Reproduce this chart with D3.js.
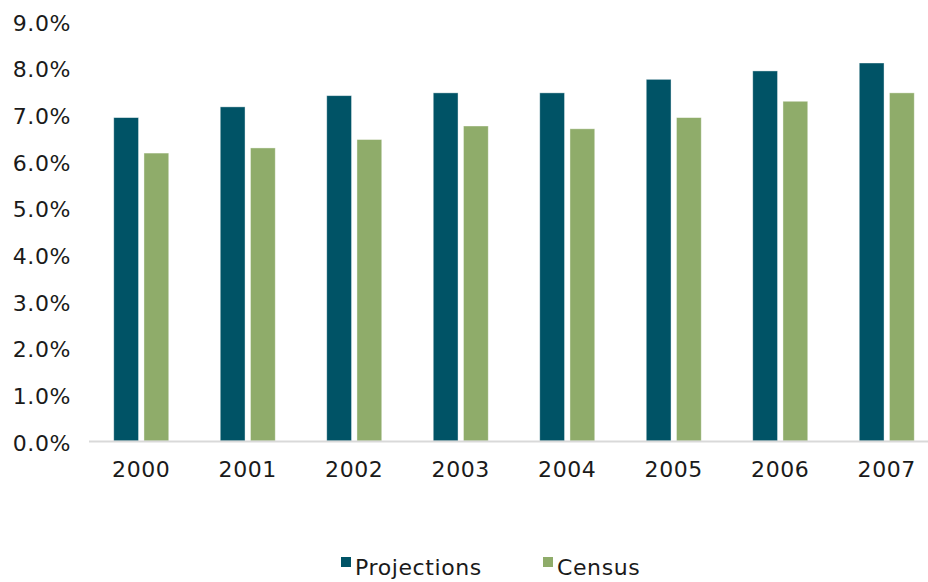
<!DOCTYPE html>
<html lang="en">
<head>
    <meta charset="UTF-8">
    <title>Projections vs Census</title>
    <script src="https://cdn.jsdelivr.net/npm/d3@7"></script>
    <style>
        body { margin: 0; background: #fff; }
        svg text { font-family: "DejaVu Sans", "Open Sans", sans-serif; fill: #1a1a1a; letter-spacing: 0.6px; }
    </style>
</head>
<body>
<div id="chart"></div>
<script>
    // data (percent)
    var years = ["2000", "2001", "2002", "2003", "2004", "2005", "2006", "2007"]
    var projections = [6.93, 7.16, 7.40, 7.46, 7.46, 7.75, 7.93, 8.10]
    var census = [6.17, 6.28, 6.46, 6.75, 6.69, 6.93, 7.28, 7.46]
    var seriesNames = ["Projections", "Census"]
    var seriesColors = ["#005366", "#8fac6a"]
    var yTicks = [0, 1, 2, 3, 4, 5, 6, 7, 8, 9]

    var W = 928, H = 582
    var svg = d3.select("#chart").append("svg").attr("width", W).attr("height", H)

    var x = d3.scaleBand().domain(years).range([88, 940]).paddingInner(0).paddingOuter(0)
    var y = d3.scaleLinear().domain([0, 9]).range([441, 21])
    var sub = d3.scaleBand().domain(seriesNames).range([x.bandwidth() / 2 - 27.5, x.bandwidth() / 2 + 27.5]).paddingInner(0.18)

    var rows = years.map((d, i) => ({ year: d, values: [projections[i], census[i]] }))

    // bars
    var groups = svg.append("g").selectAll("g").data(rows).join("g")
        .attr("transform", d => "translate(" + x(d.year) + ",0)")
    groups.selectAll("rect").data(d => d.values.map((v, j) => ({ name: seriesNames[j], v: v, c: seriesColors[j] })))
        .join("rect")
        .attr("x", d => sub(d.name))
        .attr("width", sub.bandwidth())
        .attr("y", d => y(d.v))
        .attr("height", d => y(0) - y(d.v))
        .attr("fill", d => d.c)
        .attr("stroke", "#ffffff").attr("stroke-opacity", 0.5).attr("stroke-width", 0.8)

    // baseline
    svg.append("line").attr("x1", 89).attr("x2", W).attr("y1", y(0) + 0.5).attr("y2", y(0) + 0.5)
        .attr("stroke", "#d9d9d9").attr("stroke-width", 2)

    // y axis labels
    var yAxis = svg.append("g").attr("transform", "translate(71,0)")
        .call(d3.axisLeft(y).tickValues(yTicks).tickSize(0).tickPadding(0).tickFormat(d => d.toFixed(1) + "%"))
    yAxis.select(".domain").remove()
    yAxis.selectAll("text").attr("font-size", 22).attr("fill", "#1a1a1a").attr("dy", "0.42em")

    // x axis labels
    var xAxis = svg.append("g").attr("transform", "translate(0," + (y(0) + 20) + ")")
        .call(d3.axisBottom(x).tickSize(0).tickPadding(0))
    xAxis.select(".domain").remove()
    xAxis.selectAll("text").attr("font-size", 22).attr("fill", "#1a1a1a")

    // legend
    var legendX = [341, 543]
    var legend = svg.append("g").selectAll("g").data(seriesNames).join("g")
        .attr("transform", (d, i) => "translate(" + legendX[i] + ",557)")
    legend.append("rect").attr("width", 10).attr("height", 10).attr("fill", (d, i) => seriesColors[i])
    legend.append("text").attr("x", 14).attr("y", 18).attr("font-size", 22).text(d => d)
</script>
</body>
</html>
